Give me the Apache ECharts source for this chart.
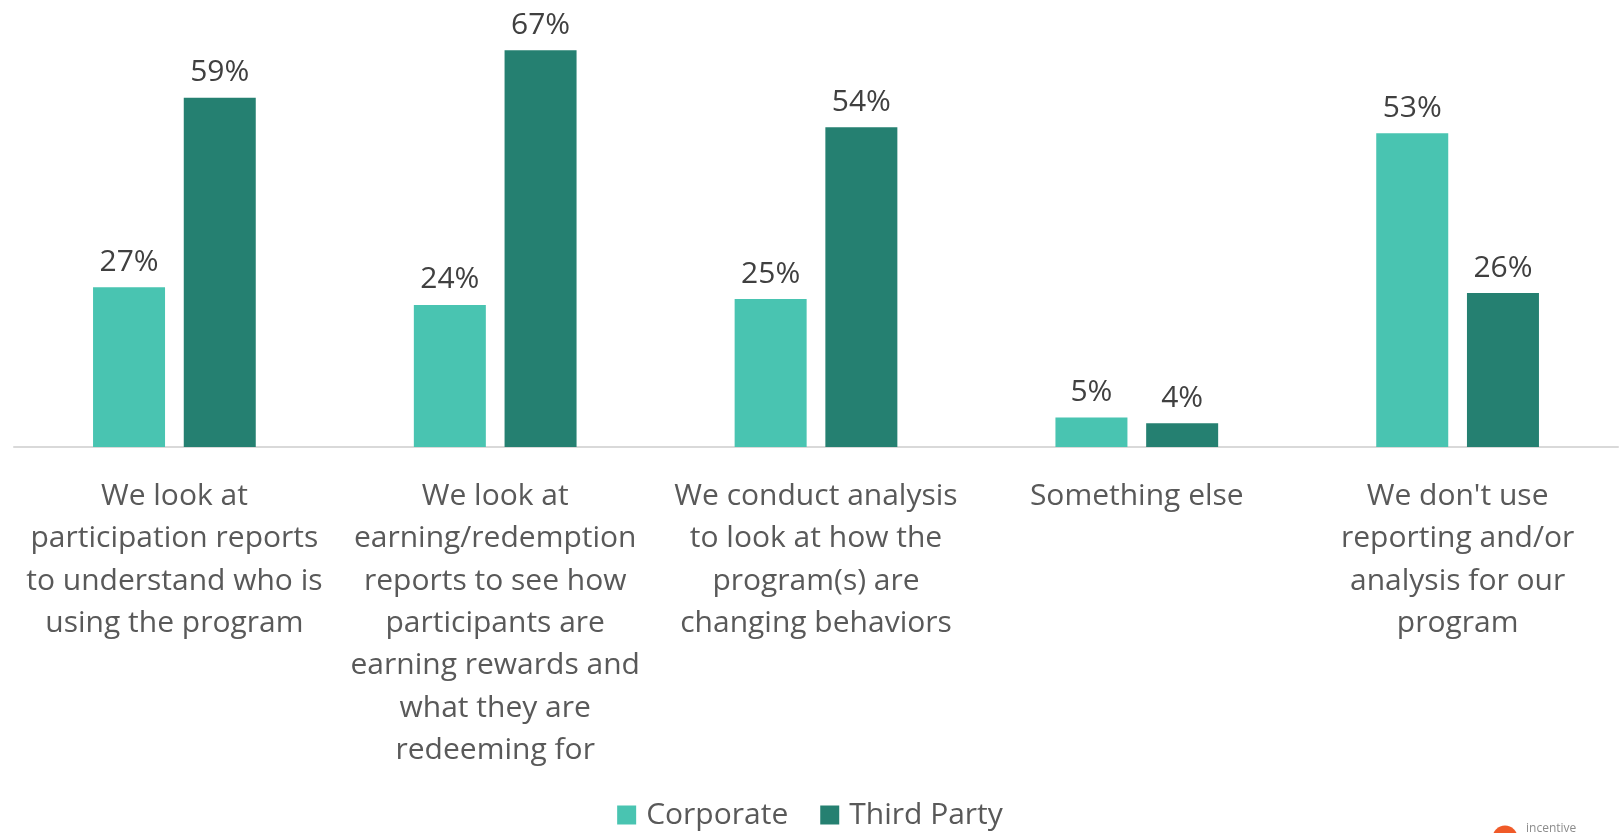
<!DOCTYPE html>
<html>
<head>
<meta charset="utf-8">
<script src="https://cdn.jsdelivr.net/npm/echarts@6/dist/echarts.min.js"></script>
<style>
  html, body { margin: 0; padding: 0; background: #ffffff; }
  #chart { width: 1620px; height: 833px; }
</style>
</head>
<body>
<div id="chart"></div>
<script>
// How programs use reporting and analysis, by program type
const categories = [
  'We look at\nparticipation reports\nto understand who is\nusing the program',
  'We look at\nearning/redemption\nreports to see how\nparticipants are\nearning rewards and\nwhat they are\nredeeming for',
  'We conduct analysis\nto look at how the\nprogram(s) are\nchanging behaviors',
  'Something else',
  "We don't use\nreporting and/or\nanalysis for our\nprogram"
];
const seriesNames = ['Corporate', 'Third Party'];
const corporate = [27, 24, 25, 5, 53];
const thirdParty = [59, 67, 54, 4, 26];

const FONT = '"Open Sans", "Noto Sans", sans-serif';
const colors = ['#49C4B1', '#258071'];

const chart = echarts.init(document.getElementById('chart'));

const valueLabel = {
  show: true,
  position: 'top',
  distance: 10,
  formatter: p => p.value + '%',
  fontFamily: FONT,
  fontSize: 30,
  color: '#404040'
};

chart.setOption({
  animation: false,
  backgroundColor: '#ffffff',
  color: colors,
  grid: { left: 14, right: 2, top: 3, bottom: 386, containLabel: false },
  legend: {
    data: seriesNames,
    bottom: -2,
    left: 'center',
    icon: 'rect',
    itemWidth: 19,
    itemHeight: 19,
    itemGap: 32,
    textStyle: { fontFamily: FONT, fontSize: 30, color: '#595959', padding: [0, 0, 0, 5] }
  },
  xAxis: {
    type: 'category',
    data: categories,
    axisLine: { show: true, lineStyle: { color: '#D9D9D9', width: 2 } },
    axisTick: { show: false },
    axisLabel: {
      interval: 0,
      margin: 28,
      fontFamily: FONT,
      fontSize: 30,
      lineHeight: 42.4,
      color: '#595959',
      align: 'center'
    }
  },
  yAxis: {
    type: 'value',
    min: 0,
    max: 75,
    show: false,
    splitLine: { show: false }
  },
  series: [
    {
      name: seriesNames[0],
      type: 'bar',
      data: corporate,
      barWidth: 72,
      barGap: '26%',
      itemStyle: { color: colors[0] },
      label: valueLabel
    },
    {
      name: seriesNames[1],
      type: 'bar',
      data: thirdParty,
      barWidth: 72,
      itemStyle: { color: colors[1] },
      label: valueLabel
    }
  ],
  graphic: [
    { type: 'circle', shape: { cx: 1505, cy: 838, r: 12.5 }, style: { fill: '#F05A28' } },
    { type: 'text', left: 1526, top: 823, style: { text: 'incentive', fontFamily: FONT, fontSize: 12, fill: '#8C8C8C' } }
  ]
});
</script>
</body>
</html>
